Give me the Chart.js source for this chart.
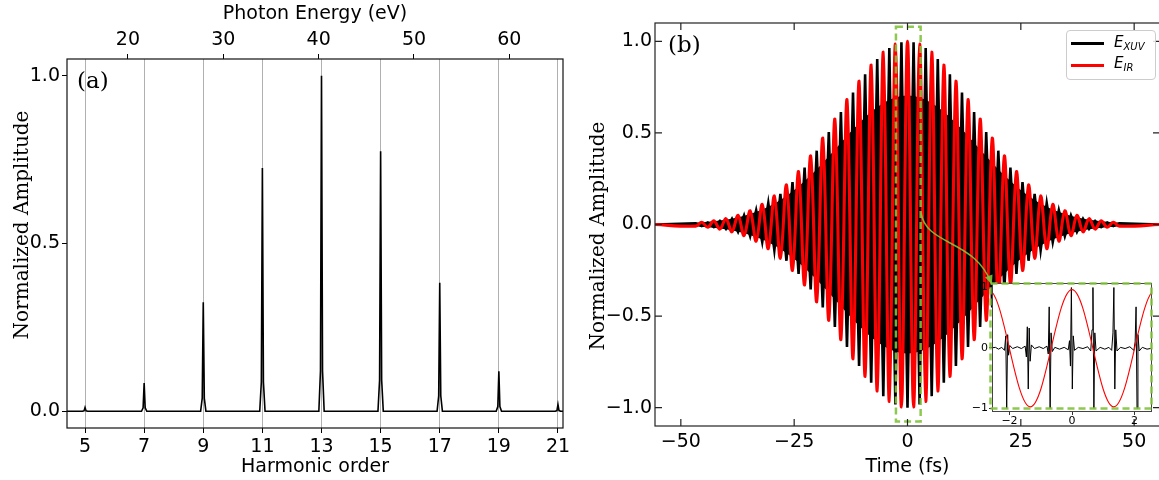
<!DOCTYPE html>
<html><head><meta charset="utf-8">
<script src="https://cdn.jsdelivr.net/npm/chart.js@4.4.1/dist/chart.umd.min.js"></script>
<style>
html,body{margin:0;padding:0;background:#fff;width:1159px;height:480px;overflow:hidden;position:relative;}
#wa{position:absolute;left:0;top:0;width:580px;height:480px;}
#wb{position:absolute;left:580px;top:0;width:585px;height:480px;}
#wi{position:absolute;left:965px;top:275px;width:195px;height:155px;}
#legend{position:absolute;left:1066px;top:30px;width:88px;height:48px;border:1px solid #cccccc;border-radius:4px;background:rgba(255,255,255,0.85);font-family:"DejaVu Sans";}
.lline{position:absolute;left:4px;width:33px;height:3px;}
.ltxt{position:absolute;left:47px;font-style:italic;font-size:15px;line-height:18px;color:#000;white-space:nowrap;}
.ltxt sub{font-size:10px;vertical-align:-3px;line-height:0;}
</style></head>
<body>
<div id="wa"><canvas id="ca" width="580" height="480"></canvas></div>
<div id="wb"><canvas id="cb" width="585" height="480"></canvas></div>
<div id="wi"><canvas id="ci" width="195" height="155"></canvas></div>
<div id="legend">
  <div class="lline" style="top:11px;background:#000;"></div>
  <div class="ltxt" style="top:2px;">E<sub>XUV</sub></div>
  <div class="lline" style="top:33px;background:#ff0000;"></div>
  <div class="ltxt" style="top:23px;">E<sub>IR</sub></div>
</div>
<script>
// ---------------- DATA ----------------
// (a) harmonic spectrum
const harmonicTicks = [5,7,9,11,13,15,17,19,21];
const energyTicks = [20,30,40,50,60];
const eVPerOrder = 3.1;
const spectrumOrder = [4.3,
  4.91,4.965,5,5.035,5.09,
  6.91,6.965,7,7.035,7.09,
  8.91,8.965,9,9.035,9.09,
  10.91,10.965,11,11.035,11.09,
  12.91,12.965,13,13.035,13.09,
  14.91,14.965,15,15.035,15.09,
  16.91,16.965,17,17.035,17.09,
  18.91,18.965,19,19.035,19.09,
  20.91,20.965,21,21.035,21.09,
  21.3];
const spectrumAmp = [0,
  0,0.001,0.011,0.001,0,
  0,0.010,0.084,0.010,0,
  0,0.039,0.325,0.039,0,
  0,0.087,0.725,0.087,0,
  0,0.120,1.000,0.120,0,
  0,0.093,0.775,0.093,0,
  0,0.046,0.383,0.046,0,
  0,0.014,0.119,0.014,0,
  0,0.002,0.020,0.002,0,
  0];

// (b) fields: extrema of each half cycle (fs)
const fieldTimes = [-56,-46.73,-45.39,-44.06,-42.72,-41.39,-40.05,-38.72,-37.38,-36.05,-34.71,-33.38,-32.04,-30.71,-29.37,-28.04,-26.70,-25.37,-24.03,-22.70,-21.36,-20.03,-18.69,-17.36,-16.02,-14.69,-13.35,-12.02,-10.68,-9.35,-8.01,-6.68,-5.34,-4.01,-2.67,-1.34,0,1.34,2.67,4.01,5.34,6.68,8.01,9.35,10.68,12.02,13.35,14.69,16.02,17.36,18.69,20.03,21.36,22.70,24.03,25.37,26.70,28.04,29.37,30.71,32.04,33.38,34.71,36.05,37.38,38.72,40.05,41.39,42.72,44.06,45.39,46.73,56];
const irField = [0,-0.009,0.012,-0.015,0.020,-0.025,0.032,-0.040,0.050,-0.061,0.075,-0.091,0.110,-0.132,0.156,-0.184,0.216,-0.251,0.289,-0.330,0.375,-0.422,0.472,-0.523,0.576,-0.629,0.682,-0.733,0.782,-0.829,0.871,-0.909,0.941,-0.966,0.985,-0.996,1.000,-0.996,0.985,-0.966,0.941,-0.909,0.871,-0.829,0.782,-0.733,0.682,-0.629,0.576,-0.523,0.472,-0.422,0.375,-0.330,0.289,-0.251,0.216,-0.184,0.156,-0.132,0.110,-0.091,0.075,-0.061,0.050,-0.040,0.032,-0.025,0.020,-0.015,0.012,-0.009,0];
const xuvSpikes = [0,0.006,-0.008,0.011,-0.014,0.019,-0.024,0.031,-0.040,0.050,-0.063,0.078,-0.096,0.117,-0.140,0.167,-0.198,0.232,-0.270,0.311,-0.355,0.403,-0.453,0.505,-0.559,0.614,-0.668,0.721,-0.772,0.820,-0.864,0.903,-0.937,0.963,-0.983,0.995,-1.000,0.995,-0.983,0.963,-0.937,0.903,-0.864,0.820,-0.772,0.721,-0.668,0.614,-0.559,0.505,-0.453,0.403,-0.355,0.311,-0.270,0.232,-0.198,0.167,-0.140,0.117,-0.096,0.078,-0.063,0.050,-0.040,0.031,-0.024,0.019,-0.014,0.011,-0.008,0.006,0];
const xuvCore = [0,0.006,0.008,0.011,0.014,0.018,0.022,0.028,0.035,0.043,0.053,0.064,0.077,0.092,0.109,0.129,0.151,0.176,0.202,0.231,0.263,0.295,0.330,0.366,0.403,0.440,0.477,0.513,0.547,0.580,0.610,0.636,0.659,0.676,0.690,0.697,0.700,0.697,0.690,0.676,0.659,0.636,0.610,0.580,0.547,0.513,0.477,0.440,0.403,0.366,0.330,0.295,0.263,0.231,0.202,0.176,0.151,0.129,0.109,0.092,0.077,0.064,0.053,0.043,0.035,0.028,0.022,0.018,0.014,0.011,0.008,0.006,0];
const timeTicks = [-50,-25,0,25,50];
const ampTicks = [-1,-0.5,0,0.5,1];
const zoomWindowT = [-2.55, 2.9];
const zoomWindowY = [-1.075, 1.08];
const connectorT = [2.98, 4.1, 14.9, 18.6];
const connectorY = [0.065, -0.12, -0.076, -0.327];

// inset (zoom of -2.5..2.5 fs)
const insetTimes = [-2.60,-2.45,-2.35,-2.25,-2.16,-2.12,-2.09,-2.06,-2.03,-1.99,-1.90,-1.75,-1.62,-1.50,-1.46,-1.43,-1.40,-1.37,-1.34,-1.30,-1.20,-1.05,-0.92,-0.80,-0.76,-0.73,-0.70,-0.67,-0.63,-0.55,-0.40,-0.25,-0.12,-0.08,-0.05,-0.02,0.01,0.04,0.08,0.20,0.35,0.50,0.60,0.64,0.67,0.70,0.73,0.77,0.90,1.05,1.18,1.27,1.31,1.34,1.37,1.40,1.44,1.55,1.70,1.85,1.98,2.02,2.05,2.08,2.11,2.15,2.25,2.40,2.60];
const insetXuv = [0.00,0.01,-0.02,0.01,-0.04,0.20,-1.00,0.22,-0.12,0.04,-0.01,0.02,-0.01,0.03,-0.15,0.35,-0.68,0.33,-0.22,0.05,-0.01,0.02,-0.01,0.03,-0.10,0.68,-1.00,0.25,-0.06,0.01,-0.02,0.01,-0.03,0.12,-0.30,1.00,-0.68,0.20,-0.04,0.01,-0.01,0.02,-0.05,0.30,1.00,-1.00,0.25,-0.05,0.01,-0.02,0.01,-0.04,0.25,1.00,-0.68,0.30,-0.05,0.01,-0.01,0.02,-0.04,0.10,0.68,-1.00,0.22,-0.05,0.01,-0.02,0.00];
const insetIrTimes = [-4.0,-2.67,-1.335,0,1.335,2.67,4.0];
const insetIr = [-0.95,0.96,-0.975,0.965,-0.975,0.96,-0.95];
const insetTimeTicks = [-2,0,2];
const insetAmpTicks = [-1,0,1];

// ---------------- HELPERS ----------------
const pts = (xs, ys) => xs.map((x, i) => ({x: x, y: ys[i]}));
const neg = ys => ys.map(v => -v);
const minus = (v, d) => (v < 0 ? '\u2212' : '') + Math.abs(v).toFixed(d);
const setTicks = list => (s => { s.ticks = list.map(v => ({value: v})); });

Chart.defaults.font.family = '"DejaVu Sans"';
Chart.defaults.color = '#000';
Chart.defaults.animation = false;

const f19 = {size: 19, family: '"DejaVu Sans"'};

// ---------------- (a) ----------------
const leftDecor = {
  id: 'leftDecor',
  afterDraw(chart) {
    const {ctx, chartArea: a} = chart;
    ctx.save();
    ctx.strokeStyle = '#111'; ctx.lineWidth = 1.2;
    ctx.strokeRect(a.left, a.top, a.right - a.left, a.bottom - a.top);
    ctx.fillStyle = '#000';
    ctx.font = '23px "DejaVu Serif"';
    ctx.textAlign = 'left'; ctx.textBaseline = 'alphabetic';
    ctx.fillText('(a)', a.left + 10, a.top + 29);
    ctx.translate(23, 225); ctx.rotate(-Math.PI / 2);
    ctx.font = '20px "DejaVu Serif"';
    ctx.textAlign = 'center'; ctx.textBaseline = 'middle';
    ctx.fillText('Normalized Amplitude', 0, 0);
    ctx.restore();
  }
};
const xMinA = 4.39, xMaxA = 21.17;
new Chart(document.getElementById('ca'), {
  type: 'line',
  data: {datasets: [{
    data: pts(spectrumOrder, spectrumAmp), borderColor: '#000', borderWidth: 1.6,
    pointRadius: 0, tension: 0, fill: false
  }]},
  options: {
    responsive: false, animation: false,
    layout: {padding: {left: 0, right: 17, top: 0, bottom: 0}},
    plugins: {legend: {display: false}, tooltip: {enabled: false}},
    scales: {
      x: {type: 'linear', position: 'bottom', min: xMinA, max: xMaxA,
        afterBuildTicks: setTicks(harmonicTicks),
        ticks: {font: f19, padding: 3, maxRotation: 0, autoSkip: false, callback: v => String(v)},
        grid: {color: '#b0b0b0', lineWidth: 1, tickColor: '#000', tickLength: 5, drawOnChartArea: true},
        border: {display: false},
        title: {display: true, text: 'Harmonic order', font: f19, padding: {top: 0, bottom: 2}},
        afterFit: s => { s.height = 52; }},
      x2: {type: 'linear', axis: 'x', position: 'top', min: xMinA * eVPerOrder, max: xMaxA * eVPerOrder,
        afterBuildTicks: setTicks(energyTicks),
        ticks: {font: f19, padding: 3, maxRotation: 0, autoSkip: false, callback: v => String(v)},
        grid: {drawOnChartArea: false, tickColor: '#000', tickLength: 5},
        border: {display: false},
        title: {display: true, text: 'Photon Energy (eV)', font: f19, padding: {top: 3, bottom: 0}},
        afterFit: s => { s.height = 59; }},
      y: {type: 'linear', min: -0.05, max: 1.05,
        afterBuildTicks: setTicks([0, 0.5, 1]),
        ticks: {font: f19, padding: 2, autoSkip: false, callback: v => minus(v, 1)},
        grid: {drawOnChartArea: false, tickColor: '#000', tickLength: 5},
        border: {display: false},
        afterFit: s => { s.width = 67; }}
    }
  },
  plugins: [leftDecor]
});

// ---------------- (b) ----------------
const rightDecor = {
  id: 'rightDecor',
  afterDraw(chart) {
    const {ctx, chartArea: a, scales: {x, y}} = chart;
    ctx.save();
    const green = 'rgba(130,195,60,0.9)';
    // zoom window
    ctx.strokeStyle = green; ctx.lineWidth = 2.5; ctx.setLineDash([7, 4]);
    const bx0 = x.getPixelForValue(zoomWindowT[0]), bx1 = x.getPixelForValue(zoomWindowT[1]);
    const by0 = y.getPixelForValue(zoomWindowY[1]), by1 = y.getPixelForValue(zoomWindowY[0]);
    ctx.strokeRect(bx0, by0, bx1 - bx0, by1 - by0);
    ctx.setLineDash([]);
    // connector
    const cp = connectorT.map((t, i) => [x.getPixelForValue(t), y.getPixelForValue(connectorY[i])]);
    ctx.lineWidth = 1.6;
    ctx.beginPath();
    ctx.moveTo(cp[0][0], cp[0][1]);
    ctx.bezierCurveTo(cp[1][0], cp[1][1], cp[2][0], cp[2][1], cp[3][0], cp[3][1]);
    ctx.stroke();
    const ang = Math.atan2(cp[3][1] - cp[2][1], cp[3][0] - cp[2][0]);
    ctx.fillStyle = green;
    ctx.beginPath();
    ctx.moveTo(cp[3][0], cp[3][1]);
    ctx.lineTo(cp[3][0] - 9 * Math.cos(ang) + 4 * Math.sin(ang), cp[3][1] - 9 * Math.sin(ang) - 4 * Math.cos(ang));
    ctx.lineTo(cp[3][0] - 9 * Math.cos(ang) - 4 * Math.sin(ang), cp[3][1] - 9 * Math.sin(ang) + 4 * Math.cos(ang));
    ctx.closePath(); ctx.fill();
    // frame and inward ticks
    ctx.strokeStyle = '#222'; ctx.lineWidth = 1.2;
    ctx.strokeRect(a.left, a.top, a.right - a.left, a.bottom - a.top);
    ctx.beginPath();
    x.ticks.forEach(t => { const p = x.getPixelForValue(t.value);
      ctx.moveTo(p, a.bottom); ctx.lineTo(p, a.bottom - 7);
      ctx.moveTo(p, a.top); ctx.lineTo(p, a.top + 7); });
    y.ticks.forEach(t => { const p = y.getPixelForValue(t.value);
      ctx.moveTo(a.left, p); ctx.lineTo(a.left + 7, p);
      ctx.moveTo(a.right, p); ctx.lineTo(a.right - 7, p); });
    ctx.stroke();
    // panel label & y title
    ctx.fillStyle = '#000';
    ctx.font = '23px "DejaVu Serif"';
    ctx.textAlign = 'left'; ctx.textBaseline = 'alphabetic';
    ctx.fillText('(b)', a.left + 13, a.top + 29);
    ctx.translate(19, 236); ctx.rotate(-Math.PI / 2);
    ctx.font = '20px "DejaVu Serif"';
    ctx.textAlign = 'center'; ctx.textBaseline = 'middle';
    ctx.fillText('Normalized Amplitude', 0, 0);
    ctx.restore();
  }
};
new Chart(document.getElementById('cb'), {
  type: 'line',
  data: {datasets: [
    {label: 'E_IR', data: pts(fieldTimes, irField), borderColor: '#ff0000', borderWidth: 3.1,
      pointRadius: 0, tension: 0.36, fill: false, order: 0},
    {label: 'E_XUV', data: pts(fieldTimes, xuvSpikes), borderColor: '#000', borderWidth: 2.6,
      pointRadius: 0, tension: 0, fill: false, order: 1},
    {label: 'E_XUV core +', data: pts(fieldTimes, xuvCore), borderColor: '#000', borderWidth: 1.5,
      backgroundColor: '#000', pointRadius: 0, tension: 0, fill: '+1', order: 2},
    {label: 'E_XUV core -', data: pts(fieldTimes, neg(xuvCore)), borderColor: '#000', borderWidth: 1.5,
      pointRadius: 0, tension: 0, fill: false, order: 3}
  ]},
  options: {
    responsive: false, animation: false,
    layout: {padding: {left: 0, right: 5, top: 23, bottom: 0}},
    plugins: {legend: {display: false}, tooltip: {enabled: false}},
    scales: {
      x: {type: 'linear', min: -55.7, max: 55.7,
        afterBuildTicks: setTicks(timeTicks),
        ticks: {font: f19, padding: 5, maxRotation: 0, autoSkip: false, callback: v => minus(v, 0)},
        grid: {display: false, drawTicks: false},
        border: {display: false},
        title: {display: true, text: 'Time (fs)', font: f19, padding: {top: 0, bottom: 2}},
        afterFit: s => { s.height = 54; }},
      y: {type: 'linear', min: -1.1, max: 1.1,
        afterBuildTicks: setTicks(ampTicks),
        ticks: {font: f19, padding: 3, autoSkip: false, callback: v => minus(v, 1)},
        grid: {display: false, drawTicks: false},
        border: {display: false},
        afterFit: s => { s.width = 75; }}
    }
  },
  plugins: [rightDecor]
});

// ---------------- inset ----------------
const insetDecor = {
  id: 'insetDecor',
  beforeDatasetsDraw(chart) {
    const {ctx, chartArea: a} = chart;
    ctx.save(); ctx.fillStyle = '#fff';
    ctx.fillRect(a.left, a.top, a.right - a.left, a.bottom - a.top);
    ctx.restore();
  },
  afterDraw(chart) {
    const {ctx, chartArea: a} = chart;
    ctx.save();
    ctx.strokeStyle = '#444'; ctx.lineWidth = 1;
    ctx.strokeRect(a.left + 0.5, a.top + 0.5, a.right - a.left - 1, a.bottom - a.top - 1);
    ctx.strokeStyle = 'rgba(130,195,60,0.9)'; ctx.lineWidth = 2.5; ctx.setLineDash([7, 4]);
    ctx.strokeRect(a.left - 1.5, a.top + 0.5, a.right - a.left + 1, a.bottom - a.top - 4);
    ctx.restore();
  }
};
new Chart(document.getElementById('ci'), {
  type: 'line',
  data: {datasets: [
    {data: pts(insetIrTimes, insetIr), borderColor: '#ff0000', borderWidth: 1.1,
      pointRadius: 0, tension: 0.36, fill: false, order: 0},
    {data: pts(insetTimes, insetXuv), borderColor: '#000', borderWidth: 1,
      pointRadius: 0, tension: 0, fill: false, order: 1}
  ]},
  options: {
    responsive: false, animation: false,
    layout: {padding: {left: 0, right: 8, top: 8, bottom: 0}},
    plugins: {legend: {display: false}, tooltip: {enabled: false}},
    scales: {
      x: {type: 'linear', min: -2.56, max: 2.56,
        afterBuildTicks: setTicks(insetTimeTicks),
        ticks: {font: {size: 11}, padding: 0, maxRotation: 0, autoSkip: false, callback: v => minus(v, 0)},
        grid: {drawOnChartArea: false, tickLength: 3, tickColor: '#333'},
        border: {display: false},
        afterFit: s => { s.height = 18; }},
      y: {type: 'linear', min: -1.06, max: 1.075,
        afterBuildTicks: setTicks(insetAmpTicks),
        ticks: {font: {size: 11}, padding: 1, autoSkip: false, callback: v => minus(v, 0)},
        grid: {drawOnChartArea: false, tickLength: 3, tickColor: '#333'},
        border: {display: false},
        afterFit: s => { s.width = 27; }}
    }
  },
  plugins: [insetDecor]
});
</script>
</body></html>
